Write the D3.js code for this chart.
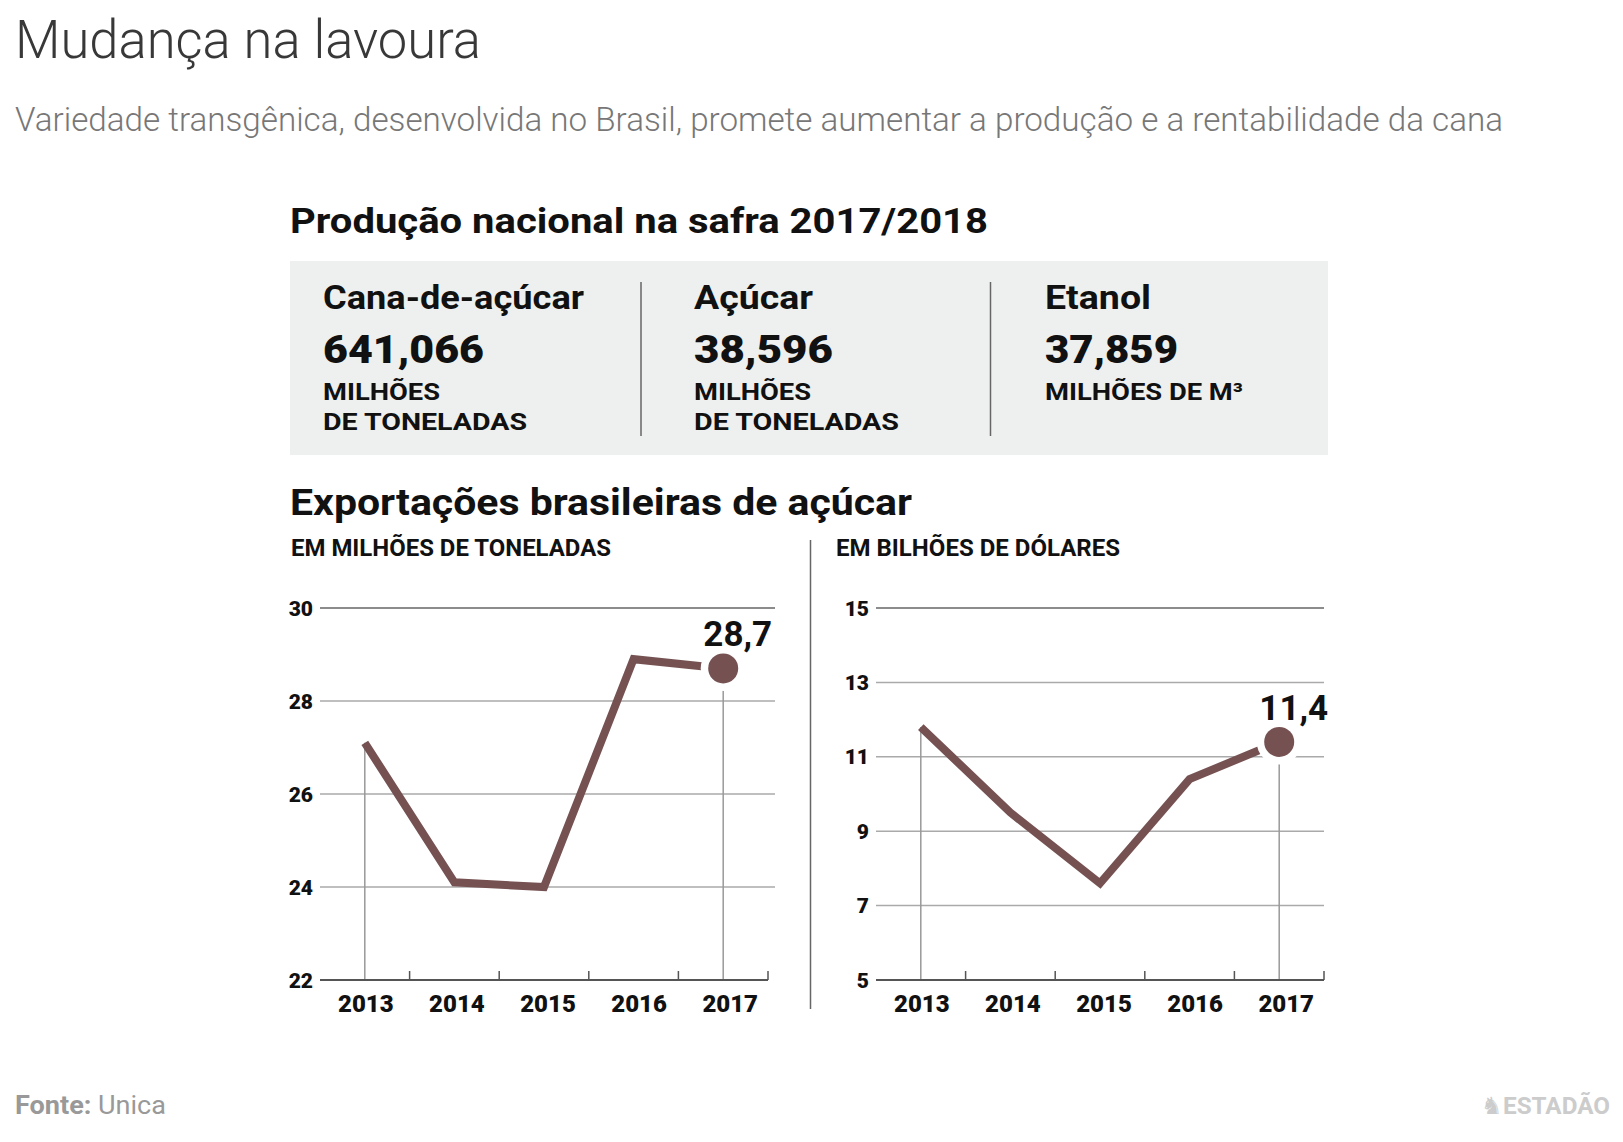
<!DOCTYPE html>
<html>
<head>
<meta charset="utf-8">
<script src="https://cdn.jsdelivr.net/npm/d3@7"></script>
<style>
  body { margin: 0; background: #fff; }
  svg { display: block; font-family: Roboto, "Noto Sans", sans-serif; }
</style>
</head>
<body>
<div id="chart"></div>
<script>
// Data
const years = ['2013', '2014', '2015', '2016', '2017'];
const tonnes = [27.1, 24.1, 24.0, 28.9, 28.7];
const dollars = [11.8, 9.5, 7.6, 10.4, 11.4];
const tonneTicks = [22, 24, 26, 28, 30];
const dollarTicks = [5, 7, 9, 11, 13, 15];

const statNames = ['Cana-de-açúcar', 'Açúcar', 'Etanol'];
const statValues = ['641,066', '38,596', '37,859'];
const statUnits = [['MILHÕES', 'DE TONELADAS'], ['MILHÕES', 'DE TONELADAS'], ['MILHÕES DE M³']];

const lineColor = '#765152';

const svg = d3.select('#chart')
    .append('svg')
    .attr('width', 1623)
    .attr('height', 1142);

// squeeze text to the width it has in the original (condensed DIN look)
function fit(sel, w) {
    sel.attr('textLength', w).attr('lengthAdjust', 'spacingAndGlyphs');
    return sel;
}

// Header
fit(svg.append('text')
    .attr('x', 15).attr('y', 58)
    .attr('font-size', 53).attr('font-weight', 300)
    .attr('fill', '#383838')
    .text('Mudança na lavoura'), 466);

fit(svg.append('text')
    .attr('x', 15).attr('y', 131)
    .attr('font-size', 33).attr('font-weight', 300)
    .attr('fill', '#777')
    .text('Variedade transgênica, desenvolvida no Brasil, promete aumentar a produção e a rentabilidade da cana'), 1488);

fit(svg.append('text')
    .attr('x', 290).attr('y', 233)
    .attr('font-size', 35).attr('font-weight', 700)
    .attr('fill', '#111')
    .text('Produção nacional na safra 2017/2018'), 698);

// Stats box
svg.append('rect')
    .attr('x', 290).attr('y', 261)
    .attr('width', 1038).attr('height', 194)
    .attr('fill', '#eef0ef');

const colX = [323, 694, 1045];
const nameW = [261, 119, 106];
const valueW = [161, 139, 133];
const unitW = [[117, 204], [117, 205], [198]];

[641, 990.5].forEach(x => {
    svg.append('line')
        .attr('x1', x).attr('x2', x)
        .attr('y1', 282).attr('y2', 436)
        .attr('stroke', '#666').attr('stroke-width', 1.5);
});

statNames.forEach((name, i) => {
    const g = svg.append('g').attr('fill', '#111');
    fit(g.append('text').attr('x', colX[i]).attr('y', 309)
        .attr('font-size', 34).attr('font-weight', 700).text(name), nameW[i]);
    fit(g.append('text').attr('x', colX[i]).attr('y', 363)
        .attr('font-size', 39).attr('font-weight', 900).text(statValues[i]), valueW[i]);
    statUnits[i].forEach((u, j) => {
        fit(g.append('text').attr('x', colX[i]).attr('y', 400 + j * 30)
            .attr('font-size', 24).attr('font-weight', 700).text(u), unitW[i][j]);
    });
});

// Exports section
fit(svg.append('text')
    .attr('x', 290).attr('y', 515)
    .attr('font-size', 37).attr('font-weight', 700)
    .attr('fill', '#111')
    .text('Exportações brasileiras de açúcar'), 622);

svg.append('line')
    .attr('x1', 810.5).attr('x2', 810.5)
    .attr('y1', 540).attr('y2', 1009)
    .attr('stroke', '#666').attr('stroke-width', 1.5);

function drawChart(cfg) {
    const g = svg.append('g');

    fit(g.append('text')
        .attr('x', cfg.titleX).attr('y', 556)
        .attr('font-size', 23).attr('font-weight', 700)
        .attr('fill', '#111')
        .text(cfg.title), cfg.titleW);

    const x = d3.scaleBand()
        .domain(years)
        .range([cfg.left, cfg.right])
        .padding(0);

    const y = d3.scaleLinear()
        .domain(d3.extent(cfg.ticks))
        .range([980, 608]);

    const cx = d => x(d) + x.bandwidth() / 2;

    // year labels sit on a slightly wider spacing than the points
    const xl = d3.scalePoint()
        .domain(years)
        .range([cx(years[0]) + 1, cx(years[years.length - 1]) + 7]);

    // horizontal gridlines
    g.selectAll('.grid')
        .data(cfg.ticks.slice(1))
        .enter()
        .append('line')
        .attr('x1', cfg.left).attr('x2', cfg.gridEnd)
        .attr('y1', d => y(d)).attr('y2', d => y(d))
        .attr('stroke', (d, i) => i === cfg.ticks.length - 2 ? '#666' : '#aaa')
        .attr('stroke-width', 1.5);

    // y labels
    g.selectAll('.ylab')
        .data(cfg.ticks)
        .enter()
        .append('text')
        .attr('x', cfg.left - 7)
        .attr('y', d => y(d))
        .attr('dy', '0.36em')
        .attr('text-anchor', 'end')
        .attr('font-size', 21).attr('font-weight', 900)
        .attr('fill', '#111')
        .text(d => d);

    // vertical guides at first and last year
    const ends = [0, years.length - 1];
    g.selectAll('.vguide')
        .data(ends)
        .enter()
        .append('line')
        .attr('x1', i => cx(years[i])).attr('x2', i => cx(years[i]))
        .attr('y1', i => y(cfg.values[i]))
        .attr('y2', 980)
        .attr('stroke', '#999').attr('stroke-width', 1.5);

    // x axis
    g.append('line')
        .attr('x1', cfg.left).attr('x2', cfg.right)
        .attr('y1', 980).attr('y2', 980)
        .attr('stroke', '#555').attr('stroke-width', 2);

    g.selectAll('.tick')
        .data(years)
        .enter()
        .append('line')
        .attr('x1', d => x(d) + x.bandwidth()).attr('x2', d => x(d) + x.bandwidth())
        .attr('y1', 980).attr('y2', 971)
        .attr('stroke', '#555').attr('stroke-width', 1.5);

    g.selectAll('.xlab')
        .data(years)
        .enter()
        .append('text')
        .attr('x', d => xl(d))
        .attr('y', 1012)
        .attr('text-anchor', 'middle')
        .attr('font-size', 24).attr('font-weight', 900)
        .attr('fill', '#111')
        .text(d => d);

    // line
    const line = d3.line()
        .x((d, i) => cx(years[i]))
        .y(d => y(d));

    g.append('path')
        .datum(cfg.values)
        .attr('d', line)
        .attr('fill', 'none')
        .attr('stroke', lineColor)
        .attr('stroke-width', 8);

    // last point
    const last = years.length - 1;
    g.append('circle')
        .attr('cx', cx(years[last])).attr('cy', y(cfg.values[last]))
        .attr('r', 22.5).attr('fill', '#fff');
    g.append('circle')
        .attr('cx', cx(years[last])).attr('cy', y(cfg.values[last]))
        .attr('r', 15).attr('fill', lineColor);

    g.append('text')
        .attr('x', cx(years[last]) + 49)
        .attr('y', y(cfg.values[last]) - 22)
        .attr('text-anchor', 'end')
        .attr('font-size', 35).attr('font-weight', 700)
        .attr('fill', '#111')
        .text(String(cfg.values[last]).replace('.', ','));
}

drawChart({
    title: 'EM MILHÕES DE TONELADAS', titleX: 291, titleW: 320,
    values: tonnes, ticks: tonneTicks,
    left: 320, right: 768, gridEnd: 775
});

drawChart({
    title: 'EM BILHÕES DE DÓLARES', titleX: 836, titleW: 284,
    values: dollars, ticks: dollarTicks,
    left: 876, right: 1324, gridEnd: 1324
});

// Footer
const src = svg.append('text')
    .attr('x', 15).attr('y', 1114)
    .attr('font-size', 25)
    .attr('fill', '#999');
src.append('tspan').attr('font-weight', 700).text('Fonte:');
src.append('tspan').attr('font-weight', 400).text(' Unica');
fit(src, 151);

svg.append('text')
    .attr('x', 1481).attr('y', 1114)
    .attr('font-size', 24)
    .attr('font-family', '"DejaVu Sans"')
    .attr('fill', '#ccc')
    .text('♞');

fit(svg.append('text')
    .attr('x', 1503).attr('y', 1114)
    .attr('font-size', 24).attr('font-weight', 700)
    .attr('fill', '#ccc')
    .text('ESTADÃO'), 107);
</script>
</body>
</html>
